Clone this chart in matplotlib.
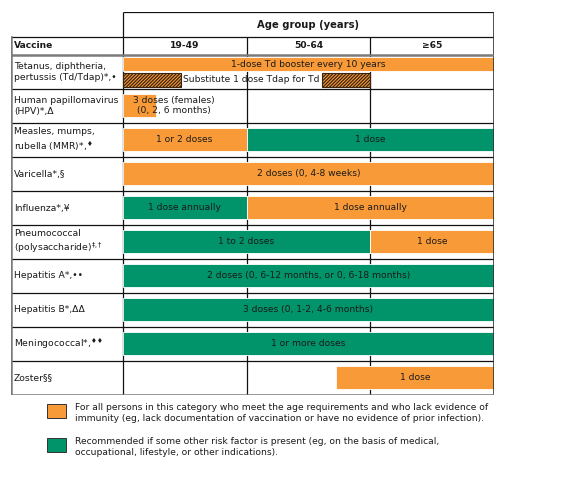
import matplotlib
matplotlib.use("Agg")
import matplotlib.pyplot as plt
from matplotlib.patches import Rectangle

plt.rcParams['font.family'] = ['DejaVu Sans']
plt.rcParams['mathtext.fontset'] = 'dejavusans'
plt.rcParams['hatch.linewidth'] = 0.9

# ---------------- data ----------------
age_groups = ["19-49", "50-64", "\u226565"]
vaccines = [
    "Tetanus, diphtheria,\npertussis (Td/Tdap)*,\u2022",
    "Human papillomavirus\n(HPV)*,\u0394",
    "Measles, mumps,\nrubella (MMR)*,$^{\u2666}$",
    "Varicella*,\u00a7",
    "Influenza*,\u00a5",
    "Pneumococcal\n(polysaccharide)$^{\u2021,\u2020}$",
    "Hepatitis A*,\u2022\u2022",
    "Hepatitis B*,\u0394\u0394",
    "Meningococcal*,$^{\u2666\u2666}$",
    "Zoster\u00a7\u00a7",
]

# bar segments (position in age-column units, 0..3)
bar_row   = [0, 1, 2, 2, 3, 4, 4, 5, 5, 6, 7, 8, 9]
bar_start = [0.0, 0.0, 0.0, 1.0, 0.0, 0.0, 1.0, 0.0, 2.0, 0.0, 0.0, 0.0, 1.72]
bar_end   = [3.0, 0.27, 1.0, 3.0, 3.0, 1.0, 3.0, 2.0, 3.0, 3.0, 3.0, 3.0, 3.0]
bar_kind  = ["all", "all", "all", "risk", "all", "risk", "all", "risk", "all",
             "risk", "risk", "risk", "all"]
bar_lane  = ["top", "full", "full", "full", "full", "full", "full", "full",
             "full", "full", "full", "full", "full"]
bar_text  = ["1-dose Td booster every 10 years",
             "3 doses (females)\n(0, 2, 6 months)",
             "1 or 2 doses", "1 dose",
             "2 doses (0, 4-8 weeks)",
             "1 dose annually", "1 dose annually",
             "1 to 2 doses", "1 dose",
             "2 doses (0, 6-12 months, or 0, 6-18 months)",
             "3 doses (0, 1-2, 4-6 months)",
             "1 or more doses",
             "1 dose"]
bar_text_x = [1.5, 0.41, 0.5, 2.0, 1.5, 0.5, 2.0, 1.0, 2.5, 1.5, 1.5, 1.5, 2.36]

# Tdap substitute (hatched) segments in the tetanus row
tdap_start = [0.0, 1.61]
tdap_end   = [0.47, 2.0]
tdap_text  = "Substitute 1 dose Tdap for Td"

legend_kind = ["all", "risk"]
legend_text = [
    "For all persons in this category who meet the age requirements and who lack evidence of\n"
    "immunity (eg, lack documentation of vaccination or have no evidence of prior infection).",
    "Recommended if some other risk factor is present (eg, on the basis of medical,\n"
    "occupational, lifestyle, or other indications).",
]

# ---------------- style ----------------
colors = {"all": "#F89A38", "risk": "#01936A"}
txt_col = "#1a1a1a"
fs = 6.6
W, H = 571, 491

fig = plt.figure(figsize=(W / 100, H / 100), dpi=100)

# table axes: x in age-column units, y in row units
left_px, right_px, top_px, bot_px = 11, 494, 12, 395
vac_w = 112 / 124.0
hdr1 = 25 / 34.0   # age-group header height
hdr2 = 18 / 34.0   # vaccine header height
ax = fig.add_axes([left_px / W, 1 - bot_px / H, (right_px - left_px) / W,
                   (bot_px - top_px) / H])
n = len(vaccines)
ax.set_xlim(-vac_w, 3)
ax.set_ylim(n, -(hdr1 + hdr2))
ax.axis('off')

line_kw = dict(color="#111111", lw=0.9, zorder=1, solid_capstyle='butt')
gray_kw = dict(color="#7a7a7a", lw=1.8, zorder=4, solid_capstyle='projecting')

# row separators
for i in range(1, n):
    ax.plot([-vac_w, 3], [i, i], **line_kw)
# column separators
ax.plot([0, 0], [-(hdr1 + hdr2), n], **line_kw)
for c in (1, 2):
    ax.plot([c, c], [-hdr2, n], **line_kw)
# header boxes
ax.plot([0, 3], [-(hdr1 + hdr2), -(hdr1 + hdr2)], **line_kw)
ax.plot([0, 3], [-hdr2, -hdr2], **line_kw)
ax.plot([-vac_w, 0], [-hdr2, -hdr2], **line_kw)
ax.plot([3, 3], [-(hdr1 + hdr2), n], color="#333333", lw=1.2, zorder=4)
# gray borders
ax.plot([-vac_w, 3], [0, 0], **gray_kw)
ax.plot([-vac_w, -vac_w], [-hdr2, n], **gray_kw)
ax.plot([-vac_w, 3], [n, n], **gray_kw)

# header text
ax.text(1.5, -hdr2 - hdr1 / 2, "Age group (years)", ha='center', va='center',
        fontsize=fs + 0.6, fontweight='bold', color=txt_col)
ax.text(-vac_w + 0.025, -hdr2 / 2, "Vaccine", ha='left', va='center',
        fontsize=fs, fontweight='bold', color=txt_col)
for c, g in enumerate(age_groups):
    ax.text(c + 0.5, -hdr2 / 2, g, ha='center', va='center', fontsize=fs,
            fontweight='bold', color=txt_col)

# vaccine labels
for i, v in enumerate(vaccines):
    ax.text(-vac_w + 0.025, i + 0.5, v, ha='left', va='center', fontsize=fs + 0.1,
            color=txt_col, linespacing=1.25)

lanes = {"full": (0.16, 0.82), "top": (0.06, 0.47), "bottom": (0.53, 0.94)}

for r, s, e, k, ln, t, tx in zip(bar_row, bar_start, bar_end, bar_kind,
                                 bar_lane, bar_text, bar_text_x):
    y0, y1 = lanes[ln]
    ax.add_patch(Rectangle((s, r + y0), e - s, y1 - y0, facecolor=colors[k],
                           edgecolor='white', lw=0.6, zorder=2))
    ax.text(tx, r + (y0 + y1) / 2, t, ha='center', va='center', fontsize=fs,
            color=txt_col, zorder=5, linespacing=1.2)

y0, y1 = lanes["bottom"]
for s, e in zip(tdap_start, tdap_end):
    ax.add_patch(Rectangle((s, y0), e - s, y1 - y0, facecolor=colors["all"],
                           edgecolor="#3b2410", lw=0.8, hatch='//////////',
                           zorder=2))
ax.text((tdap_end[0] + tdap_start[1]) / 2, (y0 + y1) / 2, tdap_text,
        ha='center', va='center', fontsize=fs, color=txt_col, zorder=5)

# legend (figure pixel coordinates)
lax = fig.add_axes([0, 0, 1, 1])
lax.set_xlim(0, W)
lax.set_ylim(H, 0)
lax.axis('off')
leg_y = [404, 438]
for k, t, y in zip(legend_kind, legend_text, leg_y):
    lax.add_patch(Rectangle((47, y), 19, 14, facecolor=colors[k],
                            edgecolor="#333333", lw=0.7))
    lax.text(75, y - 1.5, t, ha='left', va='top', fontsize=fs, color=txt_col,
             linespacing=1.3)

fig.savefig("out.png", dpi=100)
